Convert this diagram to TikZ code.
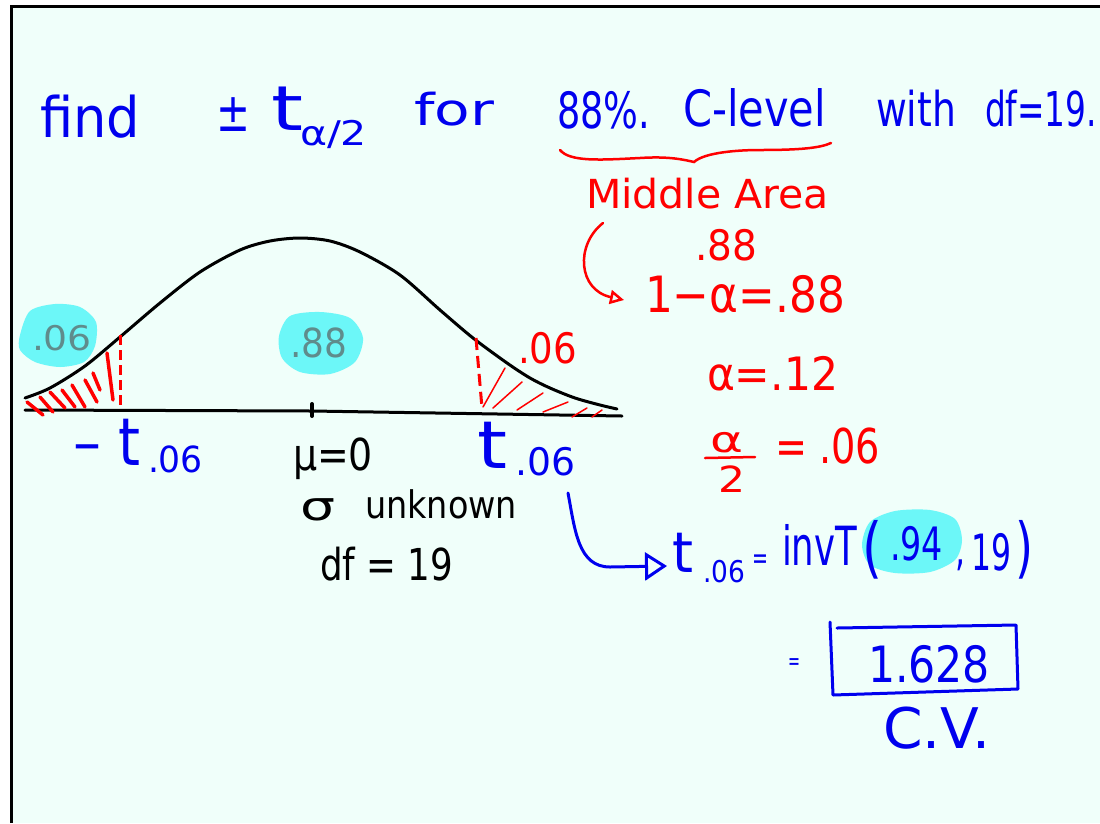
\documentclass[tikz,border=0pt]{standalone}
\usepackage{fontspec}
\setmainfont{DejaVu Sans}
\usetikzlibrary{arrows.meta}
\definecolor{bgc}{HTML}{F0FFFA}
\definecolor{pen}{HTML}{0000EE}
\definecolor{ink}{HTML}{FF0000}
\definecolor{hl}{HTML}{6CF7F8}
\definecolor{hltext}{HTML}{5F8C8C}
\newcommand\hw[3]{\resizebox{#1pt}{\height}{\fontsize{#2}{#2}\selectfont #3}}
\begin{document}
\begin{tikzpicture}[x=1pt,y=-1pt,
  txt/.style={inner sep=0pt, outer sep=0pt, anchor=base west},
  bluetxt/.style={txt, text=pen},
  redtxt/.style={txt, text=ink},
  blacktxt/.style={txt, text=black},
  blob/.style={fill=hl, draw=none},
  hatchthick/.style={draw=ink, line width=3.5pt, line cap=round},
  hatchthin/.style={draw=ink, line width=1.5pt, line cap=round},
  curveline/.style={draw=black, line width=3pt, line cap=round, line join=round},
  redarrow/.style={draw=ink, line width=2.5pt, line cap=round, -{Triangle[open, length=14pt, width=14pt, line width=2.5pt]}},
  bluearrow/.style={draw=pen, line width=3pt, line cap=round, -{Triangle[open, length=22pt, width=28pt, line width=3pt]}}
]
\useasboundingbox (0,0) rectangle (1100,823);
% background and frame
\fill[white] (0,0) rectangle (1100,823);
\fill[bgc] (11,6) rectangle (1100,823);
\draw[black, line width=3pt] (11,823) -- (11,6) -- (1100,6);

% highlight blobs
\path[blob] plot[smooth cycle] coordinates {(20,335) (30,311) (55,304) (80,307) (96,322) (95,346) (84,362) (60,367) (35,362) (20,350)};
\path[blob] plot[smooth cycle] coordinates {(279,336) (290,316) (320,312) (350,318) (363,338) (355,362) (330,374) (300,372) (282,358)};
\path[blob] plot[smooth cycle] coordinates {(862,545) (870,522) (895,511) (930,510) (955,519) (962,540) (955,560) (930,572) (895,573) (870,565)};

% title
\node[bluetxt] (find) at (40,137) {\hw{100}{56}{find}};
\node[bluetxt] (pm) at (216,131) {\hw{34}{54}{±}};
\node[bluetxt] (tt) at (271,130) {\hw{32}{62}{t}};
\node[bluetxt] (tsub) at (300,145) {\hw{67}{34}{α/2}};
\node[bluetxt] (for) at (414,125) {\hw{80}{44}{for}};
\node[bluetxt] (pct) at (557,128) {\hw{93}{50}{88\%.}};
\node[bluetxt] (clevel) at (683,126) {\hw{143}{50}{C-level}};
\node[bluetxt] (with) at (876,126) {\hw{80}{48}{with}};
\node[bluetxt] (df) at (985,126) {\hw{112}{48}{df=19.}};

% brace
\draw[ink, line width=2.5pt, line cap=round] (560,150) .. controls (570,162) and (600,160) .. (640,158) .. controls (670,156) and (685,160) .. (694,162) .. controls (705,152) and (740,150) .. (760,150) .. controls (800,150) and (820,148) .. (831,143);

% red work
\node[redtxt] (middle) at (586,208) {\hw{243}{40}{Middle Area}};
\node[redtxt] (p88) at (695,260) {\hw{62}{42}{.88}};
\coordinate (arrS) at (603,223);
\coordinate (arrE) at (624,300);
\draw[redarrow] (arrS) .. controls (575,245) and (578,290) .. (arrE);
\node[redtxt] (eq1) at (645,312) {\hw{200}{50}{1−α=.88}};
\node[redtxt] (eq2) at (707,390) {\hw{131}{46}{α=.12}};
\node[redtxt] (fa) at (710,452) {\hw{33}{36}{α}};
\coordinate (barL) at (705,458);
\coordinate (barR) at (755,457);
\draw[ink, line width=2.5pt, line cap=round] (barL) -- (barR);
\node[redtxt] (f2) at (718,492) {\hw{27}{36}{2}};
\node[redtxt] (eq3) at (775,463) {\hw{105}{48}{= .06}};

% curve and axis
\draw[curveline] (25,410) -- (312,411) -- (622,416);
\draw[curveline] plot[smooth] coordinates {(25,398) (50,388) (85,366) (120,337) (160,303) (200,272) (240,250) (270,241) (300,238) (330,241) (360,252) (400,275) (440,310) (473,338) (507,363) (530,378) (550,388) (575,398) (600,405) (617,409)};
\draw[black, line width=4pt, line cap=round] (312,404) -- (312,416);

% left tail hatching
\draw[hatchthick] (27,402) -- (43,415);
\draw[hatchthick] (40,397) -- (53,412);
\draw[hatchthick] (50,392) -- (65,408);
\draw[hatchthick] (62,390) -- (75,407);
\draw[hatchthick] (72,385) -- (85,407);
\draw[hatchthick] (85,380) -- (97,402);
\draw[hatchthick] (93,373) -- (100,390);
\draw[hatchthick] (107,353) -- (113,400);
\draw[ink, line width=3pt, dash pattern=on 10pt off 5pt] (120,335) -- (120,409);

% right tail hatching
\draw[ink, line width=3pt, dash pattern=on 12pt off 6pt] (476,338) -- (482,408);
\draw[hatchthin] (483,407) -- (505,368);
\draw[hatchthin] (493,408) -- (522,382);
\draw[hatchthin] (517,410) -- (543,393);
\draw[hatchthin] (543,412) -- (568,402);
\draw[hatchthin] (572,417) -- (587,408);
\draw[hatchthin] (592,417) -- (602,410);
\node[redtxt] (r06) at (518,363) {\hw{59}{42}{.06}};

% highlighted labels
\node[txt, text=hltext] (l06) at (32,350) {\hw{60}{34}{.06}};
\node[txt, text=hltext] (m88) at (290,357) {\hw{57}{40}{.88}};

% axis labels
\node[bluetxt] (minus) at (72,462) {\hw{30}{50}{−}};
\node[bluetxt] (lt) at (118,465) {\hw{22}{66}{t}};
\node[bluetxt] (lsub) at (148,472) {\hw{55}{36}{.06}};
\node[blacktxt] (mu) at (293,470) {\hw{80}{44}{μ=0}};
\node[bluetxt] (rt) at (477,468) {\hw{30}{66}{t}};
\node[bluetxt] (rsub) at (515,475) {\hw{60}{38}{.06}};
\node[blacktxt] (sigma) at (300,520) {\hw{35}{40}{σ}};
\node[blacktxt] (unknown) at (365,518) {\hw{152}{38}{unknown}};
\node[blacktxt] (dfb) at (320,580) {\hw{133}{44}{df = 19}};

% blue result line
\coordinate (bS) at (568,493);
\coordinate (bE) at (667,566);
\draw[bluearrow] (bS) .. controls (575,530) and (578,567) .. (610,567) -- (bE);
\node[bluetxt] (ct) at (672,572) {\hw{21}{56}{t}};
\node[bluetxt] (csub) at (703,582) {\hw{42}{30}{.06}};
\node[bluetxt] (ceq) at (752,568) {\hw{16}{30}{=}};
\node[bluetxt] (inv) at (782,565) {\hw{75}{54}{invT}};
\node[bluetxt] (lp) at (862,570) {\hw{20}{66}{(}};
\node[bluetxt] (p94) at (890,560) {\hw{53}{46}{.94}};
\node[bluetxt] (comma) at (955,565) {\hw{10}{46}{,}};
\node[bluetxt] (n19) at (971,570) {\hw{40}{50}{19}};
\node[bluetxt] (rp) at (1015,570) {\hw{18}{66}{)}};

% answer box
\node[bluetxt] (aeq) at (788,669) {\hw{12}{24}{=}};
\draw[pen, line width=3pt, line cap=round, line join=round] (830,622) -- (833,695) -- (1018,689) -- (1016,625) -- (837,628);
\node[bluetxt] (ans) at (868,682) {\hw{122}{50}{1.628}};
\node[bluetxt] (cv) at (883,748) {\hw{107}{56}{C.V.}};
\end{tikzpicture}
\end{document}
